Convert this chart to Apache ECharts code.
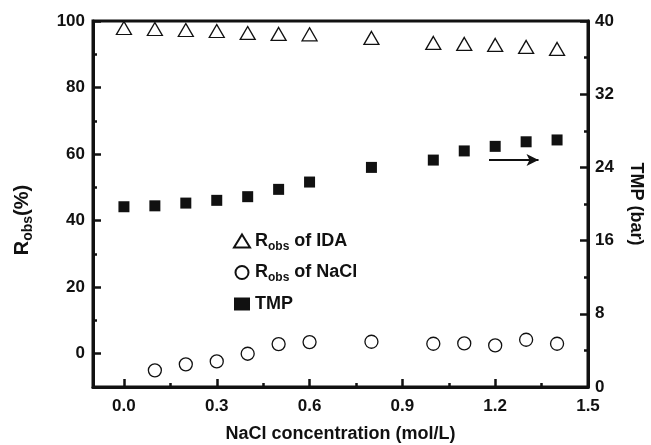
<!DOCTYPE html>
<html>
<head>
<meta charset="utf-8">
<script src="https://cdn.jsdelivr.net/npm/echarts@6/dist/echarts.min.js"></script>
<style>
  html, body { margin: 0; padding: 0; background: #fff; }
  #chart { width: 651px; height: 445px; }
</style>
</head>
<body>
<div id="chart"></div>
<script>
// NaCl concentration (mol/L)
const concIDA = [0.0, 0.1, 0.2, 0.3, 0.4, 0.5, 0.6, 0.8, 1.0, 1.1, 1.2, 1.3, 1.4];
const robsIDA = [97.9, 97.6, 97.3, 97.0, 96.4, 96.1, 96.0, 94.9, 93.4, 93.1, 92.8, 92.2, 91.6];

const concNaCl = [0.1, 0.2, 0.3, 0.4, 0.5, 0.6, 0.8, 1.0, 1.1, 1.2, 1.3, 1.4];
const robsNaCl = [-5.0, -3.2, -2.3, 0.0, 2.9, 3.5, 3.6, 3.0, 3.1, 2.5, 4.2, 3.0];

const concTMP = [0.0, 0.1, 0.2, 0.3, 0.4, 0.5, 0.6, 0.8, 1.0, 1.1, 1.2, 1.3, 1.4];
const tmpBar = [19.7, 19.8, 20.1, 20.4, 20.8, 21.6, 22.4, 24.0, 24.8, 25.8, 26.3, 26.8, 27.0];

const xTicks = [0.0, 0.3, 0.6, 0.9, 1.2, 1.5];
const xMinor = [0.15, 0.45, 0.75, 1.05, 1.35];
const leftTicks = [0, 20, 40, 60, 80, 100];
const leftMinor = [10, 30, 50, 70, 90];
const rightTicks = [0, 8, 16, 24, 32, 40];
const rightMinor = [4, 12, 20, 28, 36];

// arrow pointing to the TMP axis
const arrowFrom = [1.18, 24.8];
const arrowTo = [1.34, 24.8];

const legendNames = {
  IDA: '{t|R}{s|obs}{t| of IDA}',
  NaCl: '{t|R}{s|obs}{t| of NaCl}',
  TMP: '{t|TMP}'
};

const zip = (xs, ys) => xs.map((x, i) => [x, ys[i]]);

const font = 'Liberation Sans, Arial, sans-serif';
const ink = '#111';
const richText = {
  t: { fontSize: 18, fontWeight: 'bold', fontFamily: font, color: ink },
  s: { fontSize: 12, fontWeight: 'bold', fontFamily: font, color: ink, padding: [11, 0, 0, 0] }
};

const chart = echarts.init(document.getElementById('chart'));

const axisLineStyle = { show: true, onZero: false, lineStyle: { color: ink, width: 3 } };
const noLine = { show: false, onZero: false };
const labelStyle = { color: ink, fontSize: 17, fontWeight: 'bold', fontFamily: font };
const majorTick = v => ({ show: true, inside: true, length: 8, lineStyle: { width: 2.5, color: ink }, customValues: v });
const minorTick = v => ({ show: true, inside: true, length: 4, lineStyle: { width: 2.5, color: ink }, customValues: v });

let option = {
  backgroundColor: '#fff',
  animation: false,
  grid: {
    left: 93, right: 63, top: 21, bottom: 58,
    outerBoundsMode: 'none',
    containLabel: false,
    show: true, borderColor: ink, borderWidth: 3
  },
  legend: {
    orient: 'vertical',
    left: 228, top: 227,
    itemGap: 11,
    itemWidth: 16, itemHeight: 13,
    data: ['IDA', 'NaCl', 'TMP'],
    formatter: name => legendNames[name],
    textStyle: { rich: richText }
  },
  xAxis: [{
    type: 'value',
    min: -0.1, max: 1.5,
    axisLine: axisLineStyle,
    splitLine: { show: false },
    axisTick: majorTick(xTicks),
    axisLabel: { ...labelStyle, margin: 11, customValues: xTicks, formatter: v => v.toFixed(1) },
    name: 'NaCl concentration (mol/L)',
    nameLocation: 'middle',
    nameGap: 38,
    nameTextStyle: { color: ink, fontSize: 18, fontWeight: 'bold', fontFamily: font }
  }, {
    type: 'value',
    min: -0.1, max: 1.5,
    position: 'bottom',
    axisLine: noLine,
    splitLine: { show: false },
    axisTick: minorTick(xMinor),
    axisLabel: { show: false }
  }],
  yAxis: [{
    type: 'value',
    position: 'left',
    min: -10, max: 100,
    axisLine: axisLineStyle,
    splitLine: { show: false },
    axisTick: majorTick(leftTicks),
    axisLabel: { ...labelStyle, margin: 8, customValues: leftTicks },
    name: '{big|R}{sub|obs}{big|(%)}',
    nameLocation: 'middle',
    nameRotate: 90,
    nameGap: 58,
    nameTextStyle: {
      padding: [0, 32, 0, 0],
      rich: {
        big: { fontSize: 20, fontWeight: 'bold', fontFamily: font, color: ink },
        sub: { fontSize: 14, fontWeight: 'bold', fontFamily: font, color: ink, padding: [12, 0, 0, 0] }
      }
    }
  }, {
    type: 'value',
    position: 'right',
    min: 0, max: 40,
    axisLine: axisLineStyle,
    splitLine: { show: false },
    axisTick: majorTick(rightTicks),
    axisLabel: { ...labelStyle, margin: 7, customValues: rightTicks },
    name: 'TMP (bar)',
    nameLocation: 'middle',
    nameRotate: -90,
    nameGap: 39,
    nameTextStyle: { color: ink, fontSize: 18, fontWeight: 'bold', fontFamily: font }
  }, {
    type: 'value',
    position: 'left',
    min: -10, max: 100,
    axisLine: noLine,
    splitLine: { show: false },
    axisTick: minorTick(leftMinor),
    axisLabel: { show: false }
  }, {
    type: 'value',
    position: 'right',
    min: 0, max: 40,
    axisLine: noLine,
    splitLine: { show: false },
    axisTick: minorTick(rightMinor),
    axisLabel: { show: false }
  }],
  series: [{
    name: 'IDA',
    type: 'scatter',
    yAxisIndex: 0,
    symbol: 'triangle',
    symbolSize: [15, 13],
    itemStyle: { color: '#fff', borderColor: ink, borderWidth: 1.3, opacity: 1 },
    data: zip(concIDA, robsIDA)
  }, {
    name: 'NaCl',
    type: 'scatter',
    yAxisIndex: 0,
    symbol: 'circle',
    symbolSize: 13,
    itemStyle: { color: '#fff', borderColor: ink, borderWidth: 1.3, opacity: 1 },
    data: zip(concNaCl, robsNaCl)
  }, {
    name: 'TMP',
    type: 'scatter',
    yAxisIndex: 1,
    symbol: 'rect',
    symbolSize: 11,
    itemStyle: { color: ink, opacity: 1 },
    data: zip(concTMP, tmpBar),
    markLine: {
      silent: true,
      symbol: ['none', 'arrow'],
      symbolSize: [9, 12],
      label: { show: false },
      lineStyle: { color: ink, width: 2, type: 'solid' },
      data: [[{ coord: arrowFrom }, { coord: arrowTo }]]
    }
  }]
};

chart.setOption(option);
</script>
</body>
</html>
